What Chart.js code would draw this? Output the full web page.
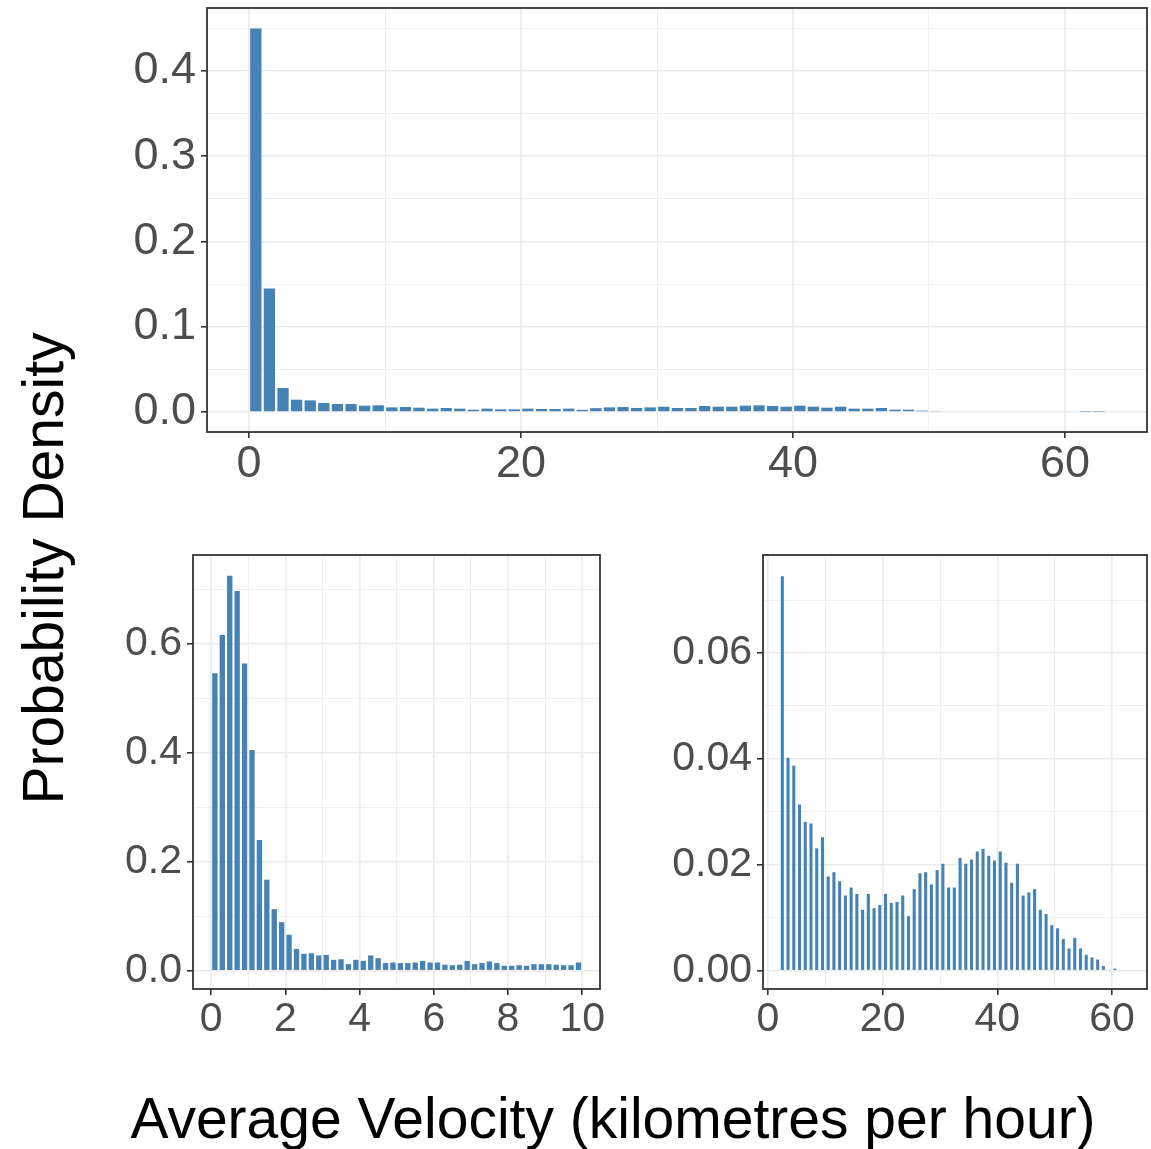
<!DOCTYPE html>
<html>
<head>
<meta charset="utf-8">
<script src="https://cdn.jsdelivr.net/npm/chart.js@4.4.1/dist/chart.umd.min.js"></script>
<style>
  html, body { margin: 0; padding: 0; background: #ffffff; }
  body { width: 1151px; height: 1149px; position: relative; overflow: hidden;
         font-family: "Liberation Sans", Arial, sans-serif; }
  .box { position: absolute; }
  #xTitle { position: absolute; left: 0; width: 1226px; top: 1090px; text-align: center;
            font-size: 57px; line-height: 57px; color: #000; white-space: nowrap; }
  #yTitle { position: absolute; left: -257px; top: 540px; width: 600px; height: 57px;
            text-align: center; font-size: 57px; line-height: 57px; color: #000;
            white-space: nowrap; transform: rotate(-90deg); }
</style>
</head>
<body>
<div class="box" id="topBox" style="left:100px;top:0px;width:1051px;height:500px;"><canvas id="topChart"></canvas></div>
<div class="box" id="leftBox" style="left:80px;top:540px;width:560px;height:520px;"><canvas id="leftChart"></canvas></div>
<div class="box" id="rightBox" style="left:650px;top:540px;width:501px;height:520px;"><canvas id="rightChart"></canvas></div>
<div id="xTitle">Average Velocity (kilometres per hour)</div>
<div id="yTitle">Probability Density</div>
<script>
// all trips, bins of 1 km/h starting at 0
const topValues = [
  0.450, 0.145, 0.0281, 0.0144, 0.0136, 0.0106, 0.0094, 0.0094, 0.0074, 0.0078,
  0.0054, 0.0058, 0.0050, 0.0039, 0.0047, 0.0039, 0.0027, 0.0039, 0.0031, 0.0031,
  0.0039, 0.0035, 0.0035, 0.0039, 0.0025, 0.0045, 0.0054, 0.0058, 0.0047, 0.0054,
  0.0062, 0.0047, 0.0047, 0.0070, 0.0062, 0.0062, 0.0074, 0.0078, 0.0070, 0.0062,
  0.0074, 0.0062, 0.0050, 0.0062, 0.0039, 0.0039, 0.0047, 0.0027, 0.0027, 0.0016,
  0.0012, 0, 0, 0, 0, 0, 0, 0, 0, 0,
  0, 0.0004, 0.0004
];
const topBinStart = 0;
const topBinWidth = 1;

// trips under 10 km/h, bins of 0.2 km/h
const leftValues = [
  0.546, 0.616, 0.725, 0.697, 0.564, 0.405, 0.240, 0.167, 0.113, 0.089,
  0.066, 0.040, 0.031, 0.032, 0.028, 0.029, 0.020, 0.021, 0.012, 0.020,
  0.018, 0.028, 0.023, 0.014, 0.015, 0.014, 0.014, 0.015, 0.018, 0.015,
  0.015, 0.011, 0.010, 0.011, 0.018, 0.012, 0.014, 0.017, 0.014, 0.009,
  0.009, 0.010, 0.009, 0.012, 0.012, 0.012, 0.011, 0.010, 0.010, 0.015
];
const leftBinStart = 0;
const leftBinWidth = 0.2;

// trips over 2 km/h, bins of 1 km/h
const rightValues = [
  0.0745, 0.0402, 0.0387, 0.0314, 0.0281, 0.0278, 0.0231, 0.0252, 0.0178, 0.0186,
  0.0169, 0.0142, 0.0157, 0.0145, 0.0115, 0.0145, 0.0118, 0.0124, 0.0145, 0.0128,
  0.0130, 0.0142, 0.0103, 0.0154, 0.0184, 0.0186, 0.0163, 0.0190, 0.0202, 0.0157,
  0.0157, 0.0213, 0.0202, 0.0210, 0.0225, 0.0230, 0.0217, 0.0208, 0.0225, 0.0204,
  0.0166, 0.0202, 0.0142, 0.0148, 0.0154, 0.0115, 0.0107, 0.0086, 0.0080, 0.0060,
  0.0042, 0.0062, 0.0042, 0.0030, 0.0025, 0.0021, 0.0009, 0.0001, 0.0004
];
const rightBinStart = 2;
const rightBinWidth = 1;

const topXMajor = [0, 20, 40, 60];
const topXMinor = [10, 30, 50];
const topYMajor = [0, 0.1, 0.2, 0.3, 0.4];
const topYMinor = [0.05, 0.15, 0.25, 0.35, 0.45];

const leftXMajor = [0, 2, 4, 6, 8, 10];
const leftXMinor = [1, 3, 5, 7, 9];
const leftYMajor = [0, 0.2, 0.4, 0.6];
const leftYMinor = [0.1, 0.3, 0.5, 0.7];

const rightXMajor = [0, 20, 40, 60];
const rightXMinor = [10, 30, 50];
const rightYMajor = [0, 0.02, 0.04, 0.06];
const rightYMinor = [0.01, 0.03, 0.05, 0.07];

const panelBorder = {
  id: 'panelBorder',
  afterDatasetsDraw(chart) {
    const { ctx, chartArea: a } = chart;
    ctx.save();
    ctx.strokeStyle = '#333333';
    ctx.lineWidth = 1.8;
    ctx.strokeRect(a.left, a.top, a.right - a.left, a.bottom - a.top);
    ctx.restore();
  }
};

function isIn(list, v) {
  return list.some(m => Math.abs(m - v) < 1e-9);
}

function makeAxis(major, minor, min, max, fontSize, decimals, pad, fit) {
  return {
    type: 'linear',
    min: min,
    max: max,
    offset: false,
    afterBuildTicks(scale) {
      scale.ticks = major.concat(minor).sort((a, b) => a - b).map(v => ({ value: v }));
    },
    afterFit(scale) {
      fit(scale);
      // keep the panel exactly where the layout puts it
      scale.paddingTop = 0;
      scale.paddingBottom = 0;
      scale.paddingLeft = 0;
      scale.paddingRight = 0;
    },
    border: { display: false },
    grid: {
      offset: false,
      color: '#ebebeb',
      lineWidth: ctx => (ctx.tick && isIn(major, ctx.tick.value)) ? 1.6 : 0.8,
      tickColor: ctx => (ctx.tick && isIn(major, ctx.tick.value)) ? '#333333' : 'rgba(0,0,0,0)',
      tickWidth: 1.6,
      tickLength: 6
    },
    ticks: {
      autoSkip: false,
      maxRotation: 0,
      padding: pad,
      color: '#4d4d4d',
      font: { family: '"Liberation Sans", Arial, sans-serif', size: fontSize },
      callback: v => isIn(major, v) ? (decimals === 0 ? String(Math.round(v)) : v.toFixed(decimals)) : ''
    }
  };
}

function makeChart(id, p) {
  const points = p.values.map((v, i) => ({ x: p.binStart + p.binWidth * (i + 0.5), y: v }));
  return new Chart(document.getElementById(id), {
    type: 'bar',
    data: {
      datasets: [{
        data: points,
        backgroundColor: '#4682b4',
        borderWidth: 0,
        categoryPercentage: 1,
        barPercentage: p.barPct
      }]
    },
    options: {
      responsive: true,
      maintainAspectRatio: false,
      animation: false,
      layout: { padding: p.padding },
      plugins: { legend: { display: false }, tooltip: { enabled: false } },
      scales: {
        x: makeAxis(p.xMajor, p.xMinor, p.xMin, p.xMax, p.fontSize, 0, 0, s => { s.height = p.xHeight; }),
        y: makeAxis(p.yMajor, p.yMinor, p.yMin, p.yMax, p.fontSize, p.yDecimals, 5, s => { s.width = p.yWidth; })
      }
    },
    plugins: [panelBorder]
  });
}

makeChart('topChart', {
  values: topValues, binStart: topBinStart, binWidth: topBinWidth, barPct: 0.83,
  xMajor: topXMajor, xMinor: topXMinor, yMajor: topYMajor, yMinor: topYMinor,
  xMin: -3.09, xMax: 66.03, yMin: -0.0235, yMax: 0.474,
  fontSize: 45, yDecimals: 1, yWidth: 107, xHeight: 68,
  padding: { top: 8, right: 4, left: 0, bottom: 0 }
});

makeChart('leftChart', {
  values: leftValues, binStart: leftBinStart, binWidth: leftBinWidth, barPct: 0.72,
  xMajor: leftXMajor, xMinor: leftXMinor, yMajor: leftYMajor, yMinor: leftYMinor,
  xMin: -0.49, xMax: 10.48, yMin: -0.0336, yMax: 0.763,
  fontSize: 41, yDecimals: 1, yWidth: 113, xHeight: 71,
  padding: { top: 15, right: 40, left: 0, bottom: 0 }
});

makeChart('rightChart', {
  values: rightValues, binStart: rightBinStart, binWidth: rightBinWidth, barPct: 0.54,
  xMajor: rightXMajor, xMinor: rightXMinor, yMajor: rightYMajor, yMinor: rightYMinor,
  xMin: -0.87, xMax: 66.1, yMin: -0.00346, yMax: 0.0785,
  fontSize: 41, yDecimals: 2, yWidth: 113, xHeight: 71,
  padding: { top: 15, right: 4, left: 0, bottom: 0 }
});
</script>
</body>
</html>
